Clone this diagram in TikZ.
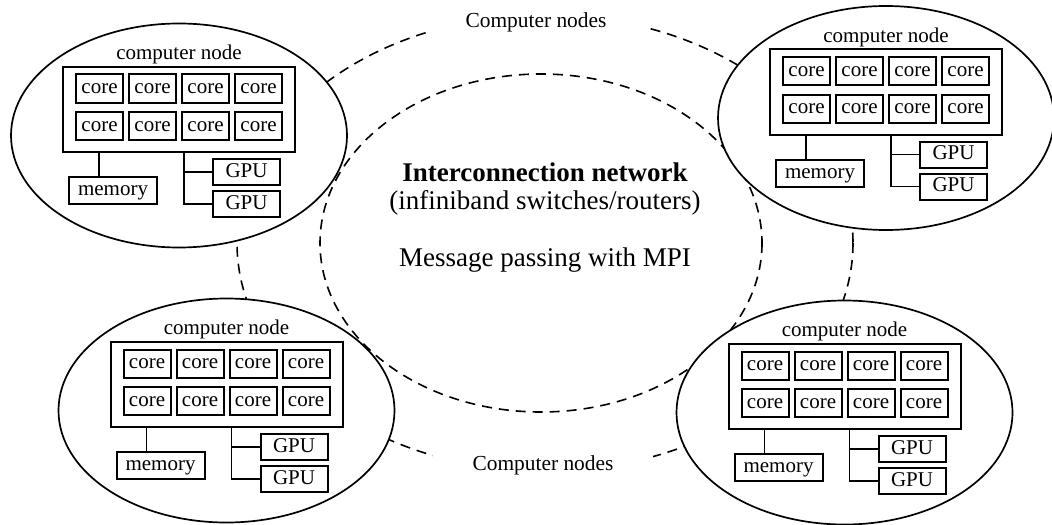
\documentclass[tikz,border=0pt]{standalone}
\usepackage{fontspec}
\setmainfont{Liberation Serif}

\begin{document}
\begin{tikzpicture}[x=0.5pt,y=-0.5pt,
  unit/.style={draw,line width=1pt,inner sep=0pt,text height=1.45ex,text depth=0.3ex,font=\fontsize{10.5}{12}\selectfont},
  core/.style={unit,minimum width=23.5pt,minimum height=14pt},
  cpubox/.style={unit,minimum width=116pt,minimum height=42.5pt},
  mem/.style={unit,minimum width=44pt,minimum height=13.5pt},
  gpu/.style={unit,minimum width=33.5pt,minimum height=13pt},
  wire/.style={line width=0.8pt},
  nodering/.style={line width=0.85pt,fill=white},
  netring/.style={line width=0.8pt,dash pattern=on 5pt off 3.5pt},
  lbl/.style={font=\fontsize{10.7}{12}\selectfont,fill=white,inner xsep=20pt,inner ysep=4pt},
  bigtext/.style={font=\fontsize{13.5}{16}\selectfont}]
\useasboundingbox (0,0) rectangle (1052,524);

% the network, behind the nodes
\draw[netring] (541,243) ellipse [x radius=221, y radius=169];
\draw[netring] (545,243) ellipse [x radius=308, y radius=228];
\node[lbl] (toplbl) at (536,22) {Computer nodes};
\node[lbl] (botlbl) at (543,465) {Computer nodes};

\node[bigtext,font=\fontsize{13.5}{16}\selectfont\bfseries] (net) at (545,172) {Interconnection network};
\node[bigtext] (hw) at (545,203) {(infiniband switches/routers)};
\node[bigtext] (mpi) at (545,260) {Message passing with MPI};

\foreach \nm/\bx/\by in {tl/179/109.5, tr/886/92, bl/226.5/384.5, br/844.5/386.5}{
  \begin{scope}[shift={(\bx,\by)}]
    \draw[nodering] (0,26) ellipse [x radius=168, y radius=112];
    \node[cpubox] (\nm-box) at (0,0) {};
    \node[font=\fontsize{10.5}{12}\selectfont] (\nm-lbl) at (0,-55) {computer node};
    \foreach \i/\cx in {1/-79.5,2/-26.5,3/26.5,4/79.5}{
      \node[core] (\nm-c\i) at (\cx,-21) {core};
      \node[core] (\nm-d\i) at (\cx,16.5) {core};
    }
    \node[mem] (\nm-mem) at (-66,81) {memory};
    \node[gpu] (\nm-g1) at (67.5,62.5) {GPU};
    \node[gpu] (\nm-g2) at (67.5,94.5) {GPU};
    \coordinate (\nm-bus) at ([xshift=61pt]\nm-box.south west);
    \draw[wire] ([xshift=18.5pt]\nm-box.south west) -- ([xshift=15.5pt]\nm-mem.north west);
    \draw[wire] (\nm-bus) |- (\nm-g2.west);
    \draw[wire] (\nm-g1.west) -- (\nm-g1.west -| \nm-bus);
  \end{scope}
}
\end{tikzpicture}
\end{document}
